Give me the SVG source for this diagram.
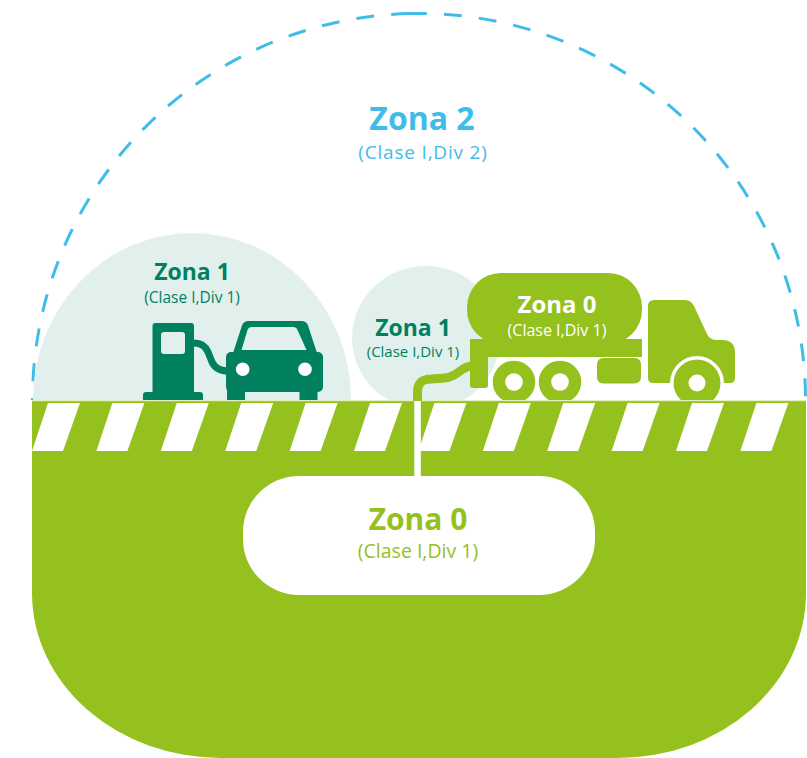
<svg xmlns="http://www.w3.org/2000/svg" width="807" height="758" viewBox="0 0 807 758">
  <style>
    .t { font-family: "Open Sans", "Liberation Sans", sans-serif; text-anchor: middle; }
    .b { font-weight: 700; }
    .r { font-weight: 400; }
    .blue { fill: #3fbde8; }
    .dark { fill: #00805f; }
    .lime { fill: #95c11f; }
    .white { fill: #ffffff; }
    .dome { fill: #e2f0ed; }
    .arc { fill: none; stroke: #3fbde8; stroke-width: 3; stroke-dasharray: 18 17; }
  </style>
  <defs>
    <polygon id="stripe" points="0,451 16,403 48,403 31,451" fill="#ffffff"/>
  </defs>

  <!-- outer hazardous area boundary -->
  <g id="zona2">
    <path class="arc" d="M 409 13.6 A 386.5 386.5 0 0 0 32.5 400"/>
    <path class="arc" d="M 409 13.6 A 386.5 386.5 0 0 1 805.5 400"/>
    <text class="t b blue" x="422" y="130" font-size="32">Zona 2</text>
    <text class="t r blue" x="423" y="159" font-size="19" letter-spacing="0.8">(Clase I,Div 2)</text>
  </g>

  <!-- fuel dispenser dome -->
  <g id="zona1-dispenser">
    <ellipse class="dome" cx="192" cy="400" rx="159" ry="167"/>
    <text class="t b dark" x="192" y="280" font-size="23">Zona 1</text>
    <text class="t r dark" x="192" y="303" font-size="15.5">(Clase I,Div 1)</text>
    <!-- pump -->
    <rect class="dark" x="152.5" y="323" width="41.5" height="75" rx="3"/>
    <rect class="dome" x="161" y="332" width="24" height="22" rx="3"/>
    <rect class="dark" x="143" y="392" width="60" height="12" rx="3"/>
    <path d="M 192 343 Q 204 342 208 352 L 212 362 Q 216 371 229 371" fill="none" stroke="#00805f" stroke-width="7"/>
    <!-- car -->
    <path class="dark" d="M 233 353 L 242 325.5 Q 243.5 321 248.5 321 L 301.5 321 Q 306.5 321 308 325.5 L 317 353 Z"/>
    <path class="dome" d="M 241.5 350 L 247.5 330 Q 248.5 327 252 327 L 293 327 Q 296.5 327 297.5 330 L 306.5 350 Z"/>
    <rect class="dark" x="226" y="352" width="97" height="40" rx="5"/>
    <rect class="dark" x="227" y="380" width="18" height="24" rx="4"/>
    <rect class="dark" x="299.5" y="380" width="18" height="24" rx="4"/>
    <circle class="white" cx="242.7" cy="369.3" r="6.8"/>
    <circle class="white" cx="305" cy="369.3" r="6.8"/>
  </g>

  <!-- tanker hose dome -->
  <g id="zona1-hose">
    <ellipse class="dome" cx="426" cy="338" rx="74" ry="72"/>
    <text class="t b dark" x="413" y="336" font-size="23">Zona 1</text>
    <text class="t r dark" x="413" y="357" font-size="15">(Clase I,Div 1)</text>
  </g>

  <!-- tanker truck -->
  <g id="zona0-tanker">
    <rect class="lime" x="467" y="273" width="175" height="71" rx="34" ry="34"/>
    <rect class="lime" x="470" y="339" width="172" height="18"/>
    <rect class="lime" x="470" y="339" width="18" height="49" rx="3"/>
    <circle class="lime" cx="514" cy="382" r="22.5" stroke="#ffffff" stroke-width="2.5"/>
    <circle class="lime" cx="560" cy="382" r="22.5" stroke="#ffffff" stroke-width="2.5"/>
    <circle class="white" cx="514" cy="382" r="8.8"/>
    <circle class="white" cx="560" cy="382" r="8.8"/>
    <rect class="lime" x="597" y="358" width="44" height="25.5" rx="6"/>
    <path class="lime" d="M 648 306 Q 648 300 654 300 L 685 300 Q 691 300 694 306 L 707 334 Q 710 340 717 340 L 724 340 Q 735 341 735 353 L 735 378 Q 735 383 730 383 L 653 383 Q 648 383 648 378 Z"/>
    <circle class="white" cx="697" cy="383" r="27"/>
    <circle class="lime" cx="697" cy="383" r="23.5"/>
    <circle class="white" cx="697" cy="383" r="8.5"/>
    <text class="t b white" x="557" y="313" font-size="24">Zona 0</text>
    <text class="t r white" x="557" y="336" font-size="16">(Clase I,Div 1)</text>
  </g>

  <!-- ground with hazard stripes -->
  <g id="ground">
    <path class="lime" d="M 32 401 H 806 V 593 A 188 165 0 0 1 618 758 H 221 A 189 165 0 0 1 32 593 Z"/>
    <rect x="32" y="400" width="774" height="1.2" fill="#e6efc4"/>
    <use href="#stripe" x="32"/>
    <use href="#stripe" x="96.4"/>
    <use href="#stripe" x="160.8"/>
    <use href="#stripe" x="225.2"/>
    <use href="#stripe" x="289.6"/>
    <use href="#stripe" x="354"/>
    <use href="#stripe" x="418.4"/>
    <use href="#stripe" x="482.8"/>
    <use href="#stripe" x="547.2"/>
    <use href="#stripe" x="611.6"/>
    <use href="#stripe" x="676"/>
    <use href="#stripe" x="740.4"/>
  </g>

  <!-- underground storage tank -->
  <g id="zona0-underground">
    <rect class="white" x="243" y="476" width="352" height="119" rx="56" ry="56"/>
    <text class="t b lime" x="418" y="530" font-size="30">Zona 0</text>
    <text class="t r lime" x="418" y="558" font-size="19.5">(Clase I,Div 1)</text>
  </g>

  <!-- fill line from the tanker down to the storage tank -->
  <g id="connectors">
    <path d="M 472 366 C 461 366 458 377 445 378 L 431 379 Q 417.5 379 417.5 392 L 417.5 401" fill="none" stroke="#95c11f" stroke-width="9"/>
    <rect class="white" x="414.3" y="401" width="6.5" height="76"/>
  </g>
</svg>
